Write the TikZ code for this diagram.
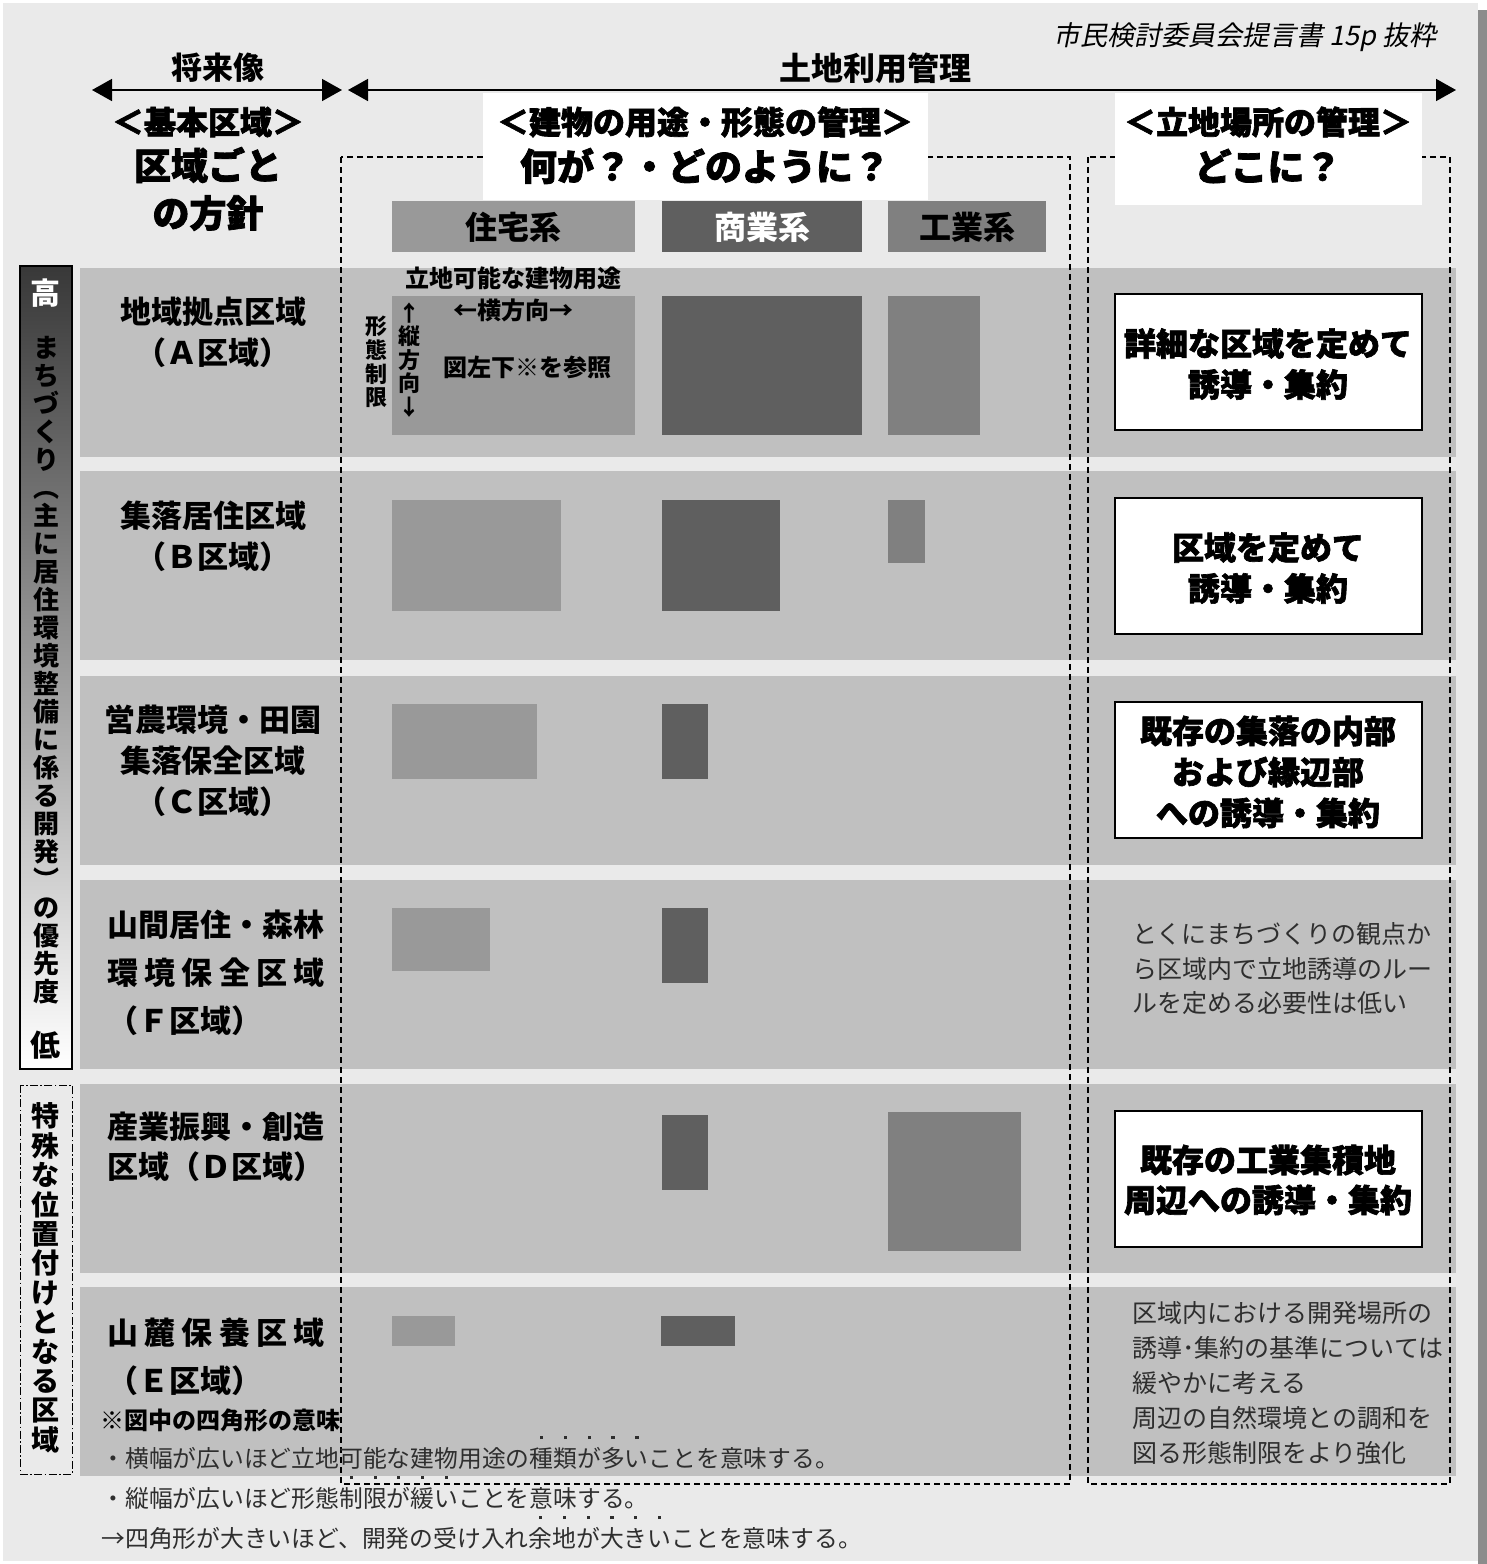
\documentclass[tikz,border=0pt]{standalone}
\usepackage{fontspec}
\setmainfont{Noto Sans CJK JP}
\newfontfamily\heavy[BoldFeatures={FakeBold=2}]{Noto Sans CJK JP}
\newfontfamily\slantjp[FakeSlant=0.2]{Noto Sans CJK JP}
\usetikzlibrary{arrows.meta}
\definecolor{bgc}{HTML}{EAEAEA}
\definecolor{bandc}{HTML}{C0C0C0}
\definecolor{shadowc}{HTML}{8C8C8C}
\definecolor{housec}{HTML}{999999}
\definecolor{shopc}{HTML}{5F5F5F}
\definecolor{indc}{HTML}{808080}
\definecolor{notec}{HTML}{2E2E2E}
\newcommand\fsz[2]{\fontsize{#1}{#2}\selectfont}
\newcommand\kenten[1]{\makebox[0pt][l]{\makebox[1em][c]{\raisebox{1.2em}{\rule{1.6pt}{1.6pt}}}}#1}
\tikzset{
  hdA/.style={font=\heavy\bfseries\fsz{16}{20.5}, inner sep=0, align=center},
  hdB/.style={font=\heavy\bfseries\fsz{18.5}{24}, inner sep=0, align=center},
  cat/.style={font=\bfseries\fsz{16}{18}, inner sep=0},
  lbl/.style={font=\bfseries\fsz{15.5}{20.5}, inner sep=0, align=center},
  lblL/.style={font=\bfseries\fsz{15.5}{24}, inner sep=0, align=left, anchor=west},
  small/.style={font=\bfseries\fsz{12}{14}, inner sep=0},
  vsmall/.style={font=\bfseries\fsz{11}{11.8}, inner sep=0, align=center},
  vbar/.style={font=\bfseries\fsz{13}{14}, inner sep=0, align=center},
  rtext/.style={font=\fsz{12.5}{17.25}, inner sep=0, align=left, anchor=west, text=notec},
  note/.style={font=\fsz{11.9}{14}, inner sep=0, anchor=west, text=notec, text height=0.88em, text depth=0.12em},
  region/.style={draw=black, line width=0.75pt, dash pattern=on 3pt off 2pt},
  rbox/.style={draw=black, fill=white, line width=0.9pt},
  harrow/.style={line width=0.8pt, {Triangle[length=10pt,width=11pt]}-{Triangle[length=10pt,width=11pt]}}
}
\begin{document}
\begin{tikzpicture}[x=0.5pt,y=-0.5pt]
\useasboundingbox (0,0) rectangle (1487,1564);
% page background
\fill[white] (0,0) rectangle (1487,1564);
\fill[bgc] (3,3) rectangle (1478,1561);
\fill[shadowc] (1478,10) rectangle (1487,1564);
% row bands
\foreach \t/\b in {268/457,471/660,676/865,880/1069,1084/1273,1287/1476}
  \fill[bandc] (80,\t) rectangle (1456,\b);
% left priority bar
\shade[top color=black!78, middle color=black!50, bottom color=white] (20,266) rectangle (72,1069);
\draw[line width=0.7pt] (20,266) rectangle (72,1069);
\draw[line width=0.5pt, dash pattern=on 4pt off 1.2pt on 0.8pt off 1.2pt] (20,1085) rectangle (72,1474);
% category headers
\fill[housec] (392,201) rectangle (635,252);
\fill[shopc] (662,201) rectangle (862,252);
\fill[indc] (888,201) rectangle (1046,252);
% squares: row A
\fill[housec] (392,296) rectangle (635,435);
\fill[shopc] (662,296) rectangle (862,435);
\fill[indc] (888,296) rectangle (980,435);
% row B
\fill[housec] (392,500) rectangle (561,611);
\fill[shopc] (662,500) rectangle (780,611);
\fill[indc] (888,500) rectangle (925,563);
% row C
\fill[housec] (392,704) rectangle (537,779);
\fill[shopc] (662,704) rectangle (708,779);
% row F
\fill[housec] (392,908) rectangle (490,971);
\fill[shopc] (662,908) rectangle (708,983);
% row D
\fill[shopc] (662,1115) rectangle (708,1190);
\fill[indc] (888,1112) rectangle (1021,1251);
% row E
\fill[housec] (392,1316) rectangle (455,1346);
\fill[shopc] (661,1316) rectangle (735,1346);
% dashed regions
\draw[region] (341,157) rectangle (1070,1484);
\draw[region] (1088,157) rectangle (1450,1484);
% white header boxes
\fill[white] (483,93) rectangle (928,200);
\fill[white] (1115,93) rectangle (1422,205);
% right boxes
\draw[rbox] (1115,294) rectangle (1422,430);
\draw[rbox] (1115,498) rectangle (1422,634);
\draw[rbox] (1115,702) rectangle (1422,838);
\draw[rbox] (1115,1111) rectangle (1422,1247);
% header arrows
\coordinate (fa) at (92,90);
\coordinate (fb) at (342,90);
\coordinate (la) at (348,90);
\coordinate (lb) at (1456,90);
\draw[harrow] (fa) -- (fb);
\draw[harrow] (la) -- (lb);
\node[font=\bfseries\fsz{15.5}{18}, inner sep=0] (tfut) at (218,68) {将来像};
\node[font=\bfseries\fsz{16}{18}, inner sep=0] (tland) at (875,68) {土地利用管理};
\node[font=\slantjp\fsz{13.5}{16}, inner sep=0, anchor=east] (cred) at (1437,37) {市民検討委員会提言書 15p 抜粋};
% headings
\node[hdA] (kihon) at (208,122) {＜基本区域＞};
\node[hdB] (kuiki) at (208,165) {区域ごと};
\node[hdB] (hoshin) at (208,213) {の方針};
\node[hdA] (tatemono) at (705,122) {＜建物の用途・形態の管理＞};
\node[hdB] (nani) at (705,166) {何が？・どのように？};
\node[hdA] (ritchi) at (1268,122) {＜立地場所の管理＞};
\node[hdB] (doko) at (1268,166) {どこに？};
% category labels
\node[cat] (cjyu) at (513,227) {住宅系};
\node[cat, text=white] (csho) at (762,227) {商業系};
\node[cat] (cko) at (967,227) {工業系};
% row A annotations
\node[small] (rkanou) at (513,278) {立地可能な建物用途};
\node[small] (ryoko) at (513,310) {←横方向→};
\node[vsmall] (rkeitai) at (376,362) {形\\態\\制\\限};
\node[vsmall] (rtate) at (409,360) {↑\\縦\\方\\向\\↓};
\node[small] (rzu) at (527,367) {図左下※を参照};
% row labels
\node[lbl] (lA) at (213,332) {地域拠点区域\\（Ａ区域）};
\node[lbl] (lB) at (213,536) {集落居住区域\\（Ｂ区域）};
\node[lbl] (lC) at (213,761) {営農環境・田園\\集落保全区域\\（Ｃ区域）};
\node[lblL] (lF) at (107,973) {山間居住・森林\\\makebox[108.5pt][s]{環\hfill 境\hfill 保\hfill 全\hfill 区\hfill 域}\\（Ｆ区域）};
\node[lblL, font=\bfseries\fsz{15.5}{20}] (lD) at (107,1147) {産業振興・創造\\区域（Ｄ区域）};
\node[lblL] (lE) at (107,1357) {\makebox[108.5pt][s]{山\hfill 麓\hfill 保\hfill 養\hfill 区\hfill 域}\\（Ｅ区域）};
\node[small, anchor=west] (lmean) at (100,1420) {※図中の四角形の意味};
% notes
\node[note] (n1) at (101,1460) {・横幅が広いほど立地可能な建物用途の\kenten{種}\kenten{類}\kenten{が}\kenten{多}\kenten{い}ことを意味する。};
\node[note] (n2) at (101,1500) {・縦幅が広いほど形態\kenten{制}\kenten{限}\kenten{が}\kenten{緩}\kenten{い}ことを意味する。};
\node[note] (n3) at (101,1540) {→四角形が大きいほど、開発の受け入れ\kenten{余}\kenten{地}\kenten{が}\kenten{大}\kenten{き}\kenten{い}ことを意味する。};
% right column texts
\node[hdA] (rA) at (1268,364) {詳細な区域を定めて\\誘導・集約};
\node[hdA] (rB) at (1268,568) {区域を定めて\\誘導・集約};
\node[hdA] (rC) at (1268,772) {既存の集落の内部\\および縁辺部\\への誘導・集約};
\node[rtext] (rF) at (1132,969) {とくにまちづくりの観点か\\ら区域内で立地誘導のルー\\ルを定める必要性は低い};
\node[hdA, font=\heavy\bfseries\fsz{16}{20}] (rD) at (1268,1180) {既存の工業集積地\\周辺への誘導・集約};
\node[rtext, font=\fsz{12.5}{17.5}] (rE) at (1132,1383) {区域内における開発場所の\\誘導･集約の基準については\\緩やかに考える\\周辺の自然環境との調和を\\図る形態制限をより強化};
% left bar texts
\node[font=\bfseries\fsz{15}{16}, inner sep=0, text=white] (high) at (46,293) {高};
\node[vbar] (vprio) at (46,670) {ま\\ち\\づ\\く\\り\\︵\\主\\に\\居\\住\\環\\境\\整\\備\\に\\係\\る\\開\\発\\︶\\の\\優\\先\\度};
\node[font=\bfseries\fsz{15}{16}, inner sep=0] (low) at (46,1045) {低};
\node[font=\bfseries\fsz{14}{14.7}, inner sep=0, align=center] (vspec) at (46,1278) {特\\殊\\な\\位\\置\\付\\け\\と\\な\\る\\区\\域};
\end{tikzpicture}
\end{document}
